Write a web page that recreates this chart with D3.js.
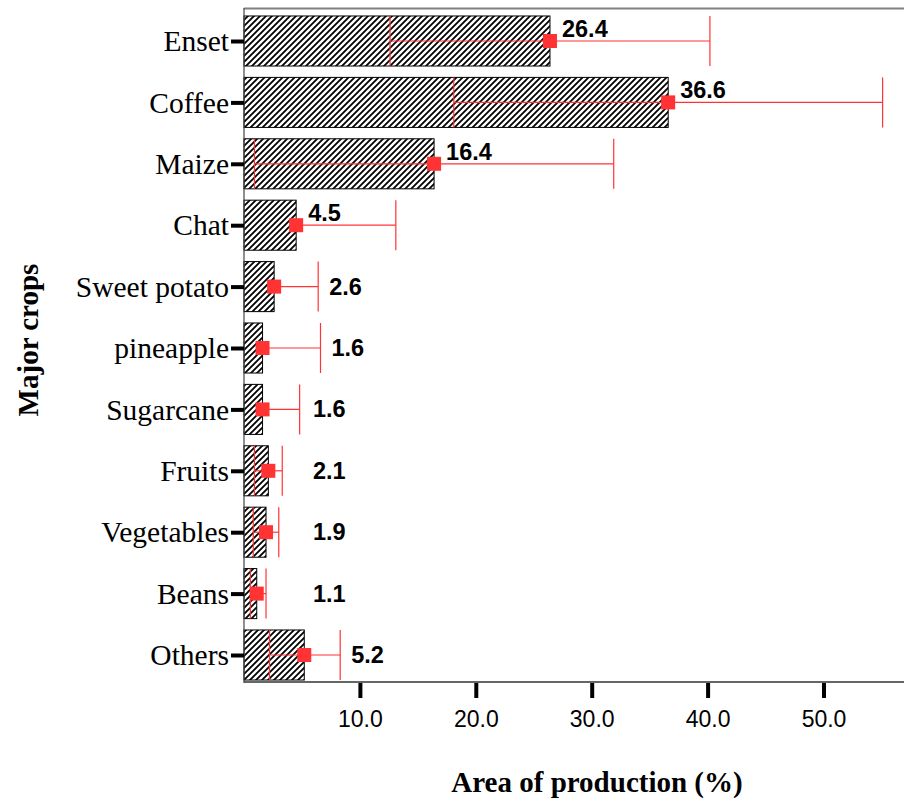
<!DOCTYPE html>
<html>
<head>
<meta charset="utf-8">
<script src="https://cdn.jsdelivr.net/npm/d3@7"></script>
<style>
  html, body { margin: 0; padding: 0; background: #fff; }
  svg { display: block; }
</style>
</head>
<body>
<svg id="chart" width="904" height="805"></svg>
<script>
// ---- data ----
const crops  = ["Enset", "Coffee", "Maize", "Chat", "Sweet potato", "pineapple",
                "Sugarcane", "Fruits", "Vegetables", "Beans", "Others"];
const means  = [26.4, 36.6, 16.4, 4.5, 2.6, 1.6, 1.6, 2.1, 1.9, 1.1, 5.2];
const lower  = [12.6, 18.1, 0.9, -4.1, -1.2, -3.4, -1.6, 0.9, 0.8, 0.55, 2.2];
const upper  = [40.2, 55.1, 31.9, 13.1, 6.4, 6.6, 4.8, 3.3, 3.0, 1.9, 8.3];
const xTicks = [10, 20, 30, 40, 50];
const xTitle = "Area of production (%)";
const yTitle = "Major crops";

const rows = crops.map((c, i) => ({ crop: c, mean: means[i], lo: lower[i], hi: upper[i] }));

// ---- layout ----
const svg = d3.select("#chart");
const plotLeft = 244, plotTop = 8, plotBottom = 682;
const pxPerUnit = 11.59;
const xMax = 57;

const x = d3.scaleLinear().domain([0, xMax]).range([plotLeft, plotLeft + xMax * pxPerUnit]);
const y = d3.scalePoint().domain(crops).range([41, 655]);
const step = y.step();
const barH = step * 0.815;

const red = "#ff3333";

// hatch pattern
const defs = svg.append("defs");
const pat = defs.append("pattern")
  .attr("id", "hatch").attr("patternUnits", "userSpaceOnUse")
  .attr("width", 6).attr("height", 6);
pat.append("rect").attr("width", 6).attr("height", 6).attr("fill", "#fff");
pat.append("path")
  .attr("d", "M-1,1 L1,-1 M0,6 L6,0 M5,7 L7,5")
  .attr("stroke", "#000").attr("stroke-width", 1.8);

// frame lines
svg.append("line").attr("x1", plotLeft).attr("x2", 904).attr("y1", plotTop + 0.5).attr("y2", plotTop + 0.5)
  .attr("stroke", "#808080").attr("stroke-width", 2);
svg.append("line").attr("x1", plotLeft).attr("x2", 904).attr("y1", plotBottom).attr("y2", plotBottom)
  .attr("stroke", "#666").attr("stroke-width", 2);

// bars
svg.append("g").selectAll("rect").data(rows).join("rect")
  .attr("x", x(0))
  .attr("y", d => y(d.crop) - barH / 2)
  .attr("width", d => x(d.mean) - x(0))
  .attr("height", barH)
  .attr("fill", "url(#hatch)")
  .attr("stroke", "#000").attr("stroke-width", 1);

// left axis line
svg.append("line").attr("x1", plotLeft).attr("x2", plotLeft).attr("y1", plotTop).attr("y2", plotBottom + 1)
  .attr("stroke", "#444").attr("stroke-width", 1.2);

// y axis (ticks + labels)
const yAxis = d3.axisLeft(y).tickSize(13).tickPadding(2);
const gy = svg.append("g").attr("transform", `translate(${plotLeft},0)`).call(yAxis);
gy.select(".domain").remove();
gy.selectAll(".tick line").attr("stroke", "#000").attr("stroke-width", 4);
gy.selectAll(".tick text")
  .attr("font-family", "'Liberation Serif', 'Times New Roman', serif")
  .attr("font-size", 29.5).attr("fill", "#000").attr("dy", "0.33em");

// x axis
const xAxis = d3.axisBottom(x).tickValues(xTicks).tickFormat(d3.format(".1f")).tickSize(15).tickPadding(13);
const gx = svg.append("g").attr("transform", `translate(0,${plotBottom + 1})`).call(xAxis);
gx.select(".domain").remove();
gx.selectAll(".tick line").attr("stroke", "#000").attr("stroke-width", 4);
gx.selectAll(".tick text")
  .attr("font-family", "'Liberation Sans', Arial, sans-serif")
  .attr("font-size", 23).attr("fill", "#000");

// error bars
const eb = svg.append("g").attr("stroke", red).attr("stroke-width", 1.2).attr("fill", "none");
rows.forEach(d => {
  const cy = y(d.crop);
  const lo = d.lo >= 0 ? d.lo : d.mean;
  eb.append("line").attr("x1", x(lo)).attr("x2", x(d.hi)).attr("y1", cy).attr("y2", cy);
  eb.append("line").attr("x1", x(d.hi)).attr("x2", x(d.hi)).attr("y1", cy - barH / 2).attr("y2", cy + barH / 2);
  if (d.lo >= 0) {
    eb.append("line").attr("x1", x(d.lo)).attr("x2", x(d.lo)).attr("y1", cy - barH / 2).attr("y2", cy + barH / 2);
  }
});

// mean markers
svg.append("g").selectAll("rect").data(rows).join("rect")
  .attr("x", d => x(d.mean) - 7)
  .attr("y", d => y(d.crop) - 7)
  .attr("width", 14).attr("height", 14)
  .attr("fill", red);

// value labels
svg.append("g").selectAll("text").data(rows).join("text")
  .attr("font-family", "'Liberation Sans', Arial, sans-serif")
  .attr("font-weight", "bold").attr("font-size", 23.5).attr("fill", "#000")
  .attr("x", d => (d.hi - d.mean > 8) ? x(d.mean) + 12 : x(Math.max(d.hi, 5)) + 11)
  .attr("y", d => (d.hi - d.mean > 8) ? y(d.crop) - 4 : y(d.crop) + 8)
  .text(d => d3.format(".1f")(d.mean));

// axis titles
svg.append("text")
  .attr("x", 597).attr("y", 792)
  .attr("text-anchor", "middle")
  .attr("font-family", "'Liberation Serif', 'Times New Roman', serif")
  .attr("font-weight", "bold").attr("font-size", 29)
  .text(xTitle);

svg.append("text")
  .attr("transform", "translate(38,340) rotate(-90)")
  .attr("text-anchor", "middle")
  .attr("font-family", "'Liberation Serif', 'Times New Roman', serif")
  .attr("font-weight", "bold").attr("font-size", 29)
  .text(yTitle);
</script>
</body>
</html>
